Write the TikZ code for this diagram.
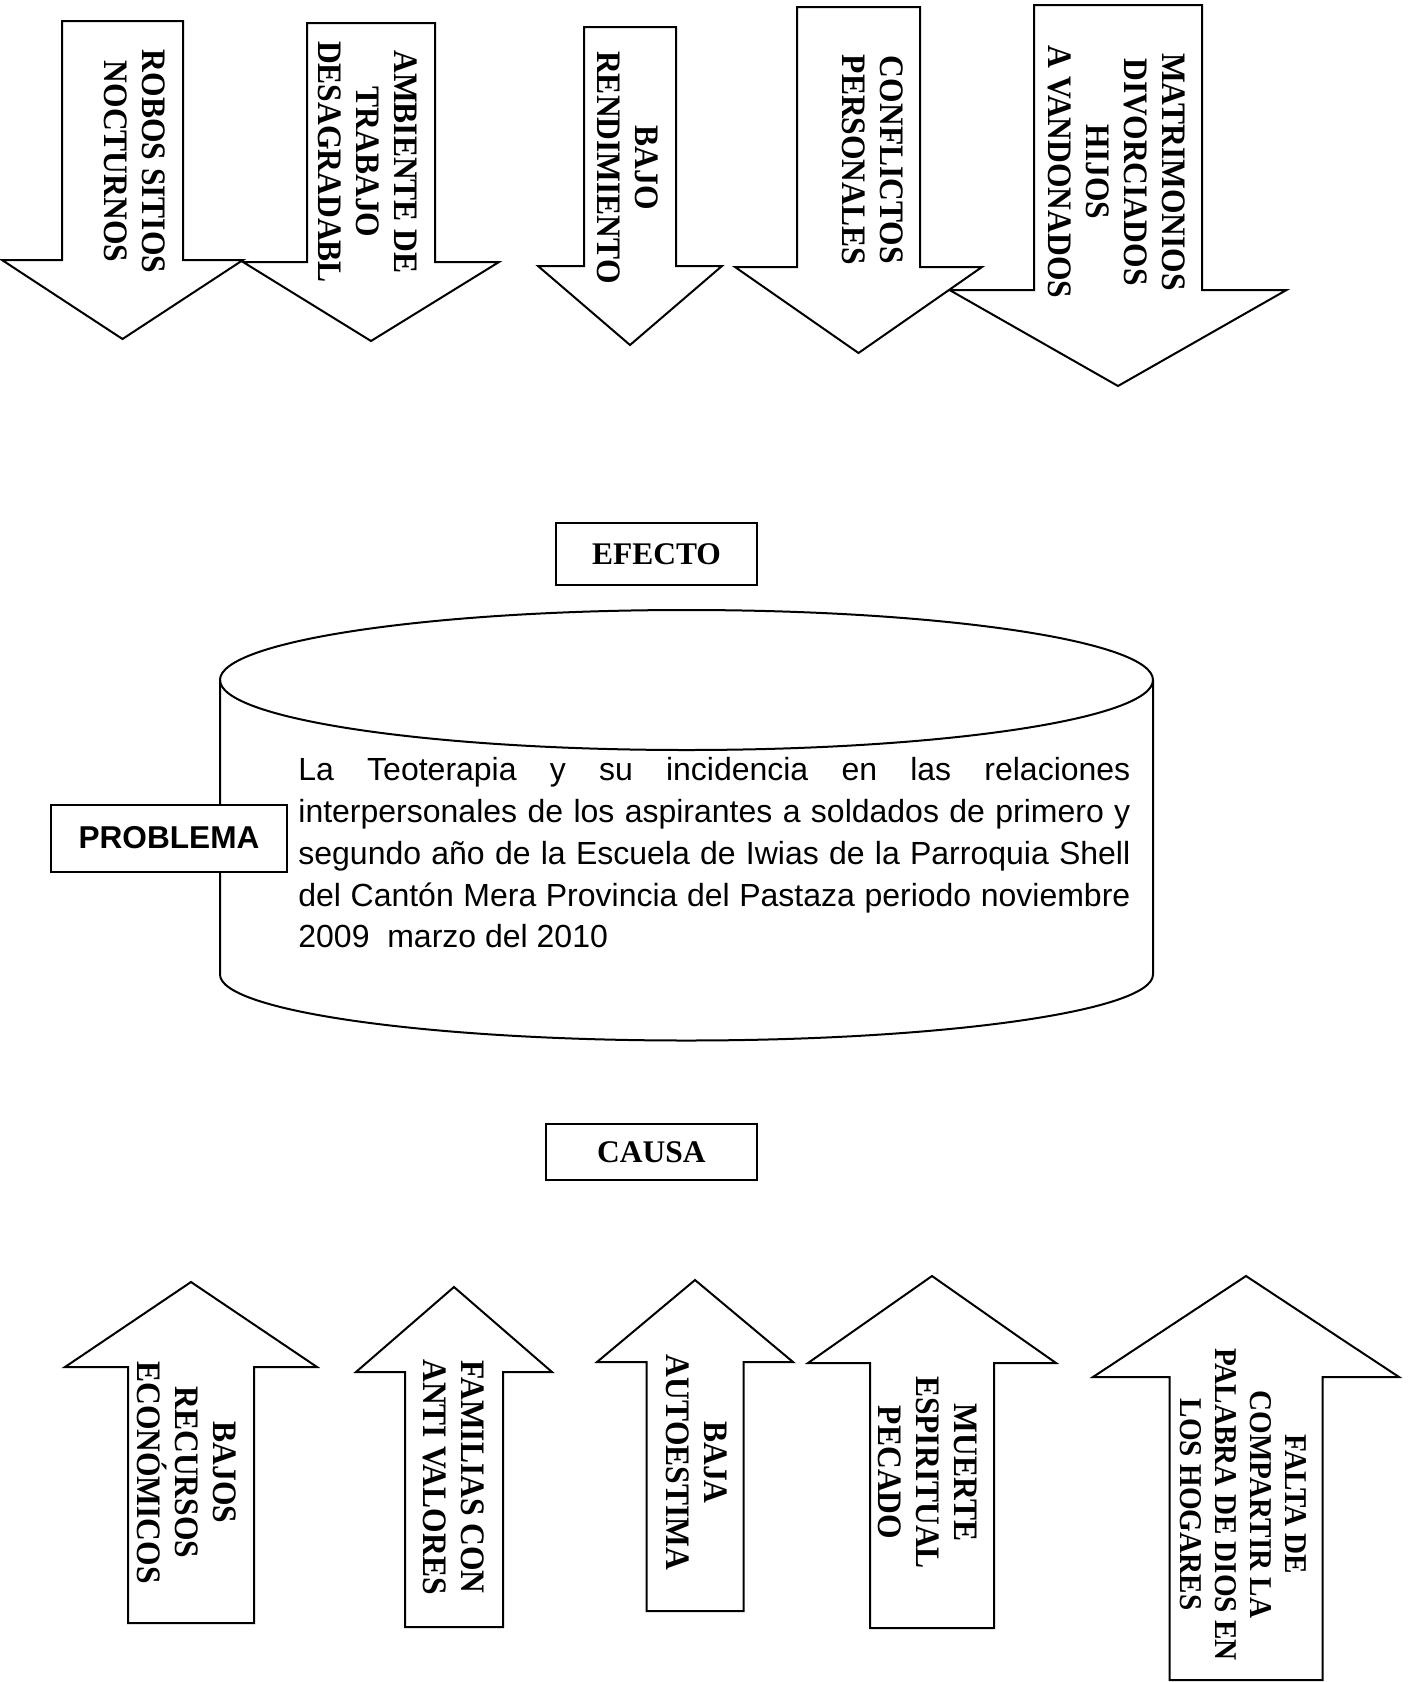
\documentclass[tikz,border=0pt]{standalone}
\usepackage{fontspec}
\setmainfont{Liberation Serif}
\newfontfamily\arialfont{Liberation Sans}
\usepackage{tikz}
\usetikzlibrary{positioning}
\tikzset{arrowbody/.style = {draw, fill = white, line width = 1pt, line join = miter}}
\tikzset{labelbox/.style = {draw, fill = white, line width = 1pt, inner sep = 0,
    font = \bfseries\fontsize{15.75}{18}\selectfont}}
\tikzset{vtext/.style = {align = center, inner sep = 0, yscale = 0.92, rotate = -90,
    font = \bfseries\fontsize{17.15}{19}\selectfont}}
\newcommand{\blockarrow}[6]{\draw [arrowbody] (#1-#2, #4) -- (#1+#2, #4) -- (#1+#2, #5)
  -- (#1+#3, #5) -- (#1, #6) -- (#1-#3, #5) -- (#1-#2, #5) -- cycle;}
\newcommand{\fullline}[1]{\makebox[416pt][s]{#1}}

\begin{document}
\begin{tikzpicture}[x = 0.5pt, y = -0.5pt]
  \useasboundingbox (0, 0) rectangle (1410, 1682);

  \blockarrow{122.5}{60.5}{120.5}{21}{260}{339}
  \blockarrow{371}{64}{128}{23}{262}{341}
  \blockarrow{630}{46}{92}{27}{266}{345}
  \blockarrow{1118}{84}{168.5}{5}{290}{386}
  \blockarrow{858.5}{61.5}{123.5}{7}{267}{353}

  \node [vtext] (robos) at (134.5, 161.5) {ROBOS SITIOS\\NOCTURNOS};
  \node [vtext] (ambiente) at (368, 162) {AMBIENTE DE\\TRABAJO\\DESAGRADABL};
  \node [vtext] (bajorend) at (627.5, 167.5) {BAJO\\RENDIMIENTO};
  \node [vtext] (conflictos) at (872.5, 160) {CONFLICTOS\\PERSONALES};
  \node [vtext] (matrimonios) at (1116.5, 172) {MATRIMONIOS\\DIVORCIADOS\\HIJOS\\A VANDONADOS};

  \node [labelbox, minimum width = 100.5pt, minimum height = 31pt] (efecto) at (656.5, 554) {EFECTO};

  \draw [line width = 1pt] (686.5, 680) ellipse [x radius = 466.5, y radius = 70];
  \draw [line width = 1pt] (220, 680) -- (220, 974.5)
    arc [start angle = 180, end angle = 0, x radius = 466.5, y radius = 66] -- (1153, 680);

  \node [anchor = north west, inner sep = 0, align = left,
    font = \arialfont\fontsize{16}{20.9}\selectfont] (teoterapia) at (298, 757)
    {\fullline{La Teoterapia y su incidencia en las relaciones}\\
     \fullline{interpersonales de los aspirantes a soldados de primero y}\\
     \fullline{segundo año de la Escuela de Iwias de la Parroquia Shell}\\
     \fullline{del Cantón Mera Provincia del Pastaza periodo noviembre}\\
     2009\ \ marzo del 2010};

  \node [labelbox, minimum width = 118pt, minimum height = 33.5pt,
    font = \arialfont\bfseries\fontsize{15.8}{18}\selectfont] (problema) at (169, 838) {PROBLEMA};

  \node [labelbox, minimum width = 105.5pt, minimum height = 28pt] (causa) at (651.5, 1152) {CAUSA};

  \blockarrow{191}{63}{126}{1623}{1367}{1282}
  \blockarrow{454}{49}{98}{1627}{1372}{1287}
  \blockarrow{695}{48.5}{98}{1611}{1362}{1280}
  \blockarrow{932}{62}{124}{1628}{1363}{1276}
  \blockarrow{1246}{76.5}{153}{1680}{1377}{1276}

  \node [vtext] (bajos) at (187, 1472.5) {BAJOS\\RECURSOS\\ECONÓMICOS};
  \node [vtext] (familias) at (454, 1477) {FAMILIAS CON\\ANTI VALORES};
  \node [vtext] (baja) at (696.5, 1462.5) {BAJA\\AUTOESTIMA};
  \node [vtext] (muerte) at (928, 1472.5) {MUERTE\\ESPIRITUAL\\PECADO};
  \node [vtext, font = \bfseries\fontsize{15.85}{17.5}\selectfont] (falta) at (1243, 1504.5)
    {FALTA DE\\COMPARTIR LA\\PALABRA DE DIOS EN\\LOS HOGARES};
\end{tikzpicture}
\end{document}
